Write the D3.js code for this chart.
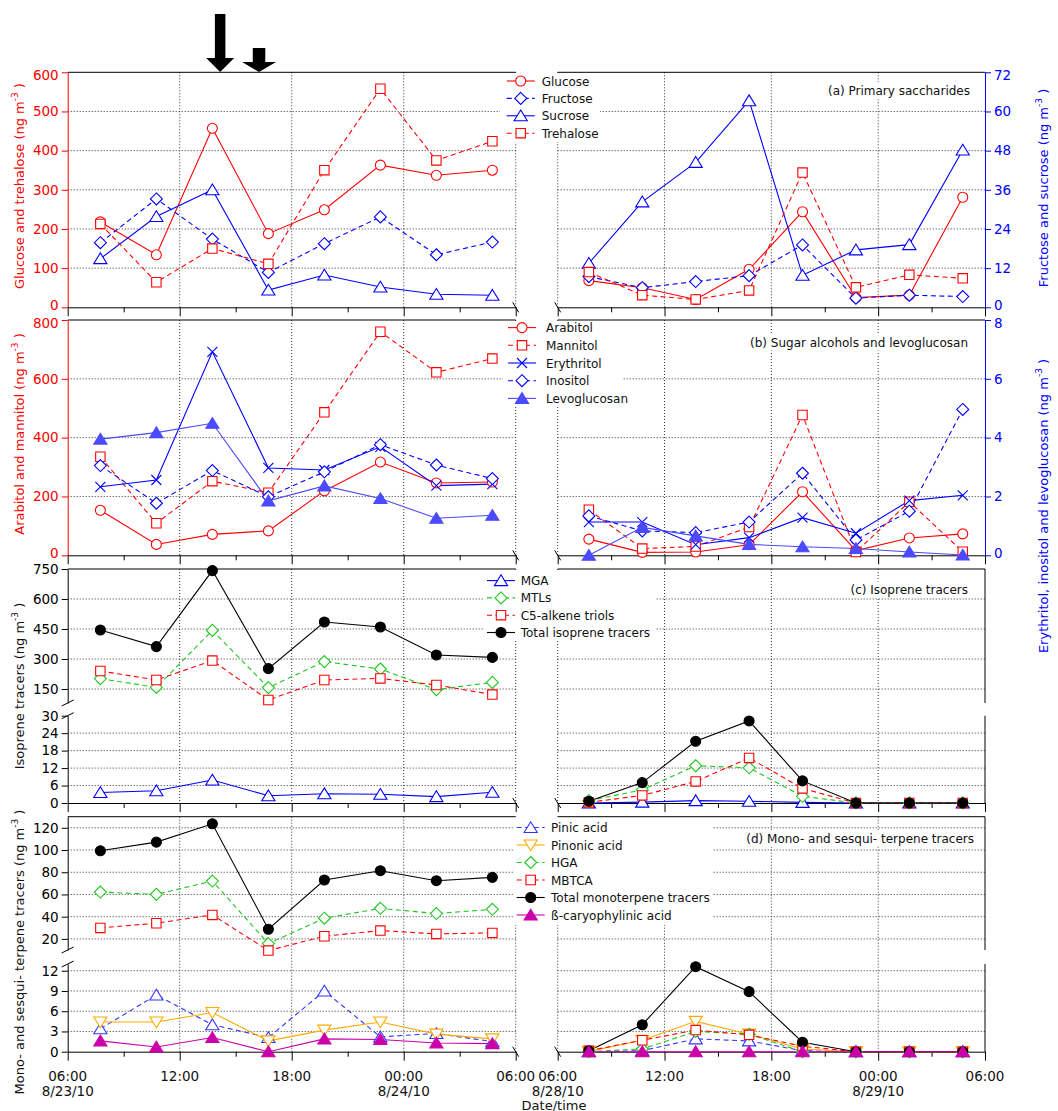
<!DOCTYPE html>
<html>
<head>
<meta charset="utf-8">
<script src="https://cdnjs.cloudflare.com/ajax/libs/d3/7.8.5/d3.min.js"></script>
<style>
  body { margin: 0; background: #fff; }
  svg text { font-family: "DejaVu Sans", sans-serif; fill: #111; }
  .grid { stroke: #333; stroke-width: 1; stroke-dasharray: 1,2; fill: none; }
</style>
</head>
<body>
<script>
var parseT = d3.timeParse("%Y-%m-%d %H:%M");

// sampling times (two campaigns)
var timesA = ["2010-08-23 07:45","2010-08-23 10:45","2010-08-23 13:45","2010-08-23 16:45",
              "2010-08-23 19:45","2010-08-23 22:45","2010-08-24 01:45","2010-08-24 04:45"];
var timesB = ["2010-08-28 07:45","2010-08-28 10:45","2010-08-28 13:45","2010-08-28 16:45",
              "2010-08-28 19:45","2010-08-28 22:45","2010-08-29 01:45","2010-08-29 04:45"];
var spanA = ["2010-08-23 06:00","2010-08-24 06:00"];
var spanB = ["2010-08-28 06:00","2010-08-29 06:00"];
var arrowTimes = ["2010-08-23 14:10","2010-08-23 16:15"];

// (a) primary saccharides
var glucoseA   = [218,134,457,188,249,363,337,350];
var glucoseB   = [68,50,20,97,244,25,31,281];
var fructoseA  = [19.8,33.2,20.9,10.7,19.5,27.7,16.1,20.0];
var fructoseB  = [9.4,6.0,7.9,9.7,19.1,2.8,3.7,3.3];
var sucroseA   = [14.9,27.8,36.0,5.3,9.9,6.2,4.0,3.7];
var sucroseB   = [13.5,32.3,44.4,63.3,9.8,17.6,19.2,48.2];
var trehaloseA = [213,64,150,111,350,558,375,424];
var trehaloseB = [90,31,20,43,344,51,83,74];

// (b) sugar alcohols and levoglucosan
var arabitolA = [153,37,71,83,219,317,246,249];
var arabitolB = [55,10,11,36,216,16,59,73];
var mannitolA = [335,109,252,213,486,760,622,669];
var mannitolB = [155,23,30,96,477,11,182,12];
var erythritolA = [2.33,2.56,6.92,2.97,2.90,3.69,2.37,2.42];
var erythritolB = [1.13,1.13,0.36,0.60,1.28,0.75,1.86,2.04];
var inositolA = [3.05,1.77,2.88,1.99,2.84,3.76,3.07,2.61];
var inositolB = [1.34,0.83,0.77,1.13,2.79,0.52,1.50,4.96];
var levoA = [3.95,4.17,4.49,1.85,2.36,1.93,1.26,1.36];
var levoB = [0,0.95,0.66,0.37,0.29,0.23,0.11,0.01];

// (c) isoprene tracers
var mgaA = [3.6,4.2,7.9,2.5,3.2,3.0,2.2,3.7];
var mgaB = [0,0.3,0.8,0.6,0.2,0,0,0];
var mtlsA = [202,158,443,157,287,250,147,183];
var mtlsB = [0.8,4.5,12.8,12.1,2.3,0,0,0];
var c5A = [240,195,292,95,195,203,170,122];
var c5B = [0.2,2.6,7.4,15.5,5.0,0,0,0];
var totIsoA = [445,362,742,252,485,460,320,308];
var totIsoB = [0.6,7.0,21.2,28.2,7.6,0,0,0];

// (d) mono- and sesqui- terpene tracers
var pinicA = [3.4,8.4,4.0,2.1,9.0,2.2,2.7,1.5];
var pinicB = [0,0.15,1.9,1.6,0.15,0,0,0];
var pinonicA = [4.4,4.4,5.8,1.6,3.2,4.4,2.6,1.9];
var pinonicB = [0.05,1.7,4.5,2.6,0.4,0,0,0];
var hgaA = [62.2,60.1,72.1,15.8,38.6,47.5,42.8,46.6];
var hgaB = [0,0.4,3.0,2.6,0,0,0,0];
var mbtcaA = [29.9,34.1,41.6,9.5,22.4,27.5,24.5,25.4];
var mbtcaB = [0.15,1.7,3.2,2.5,0.8,0,0,0];
var totMonoA = [99.3,107.1,123.6,28.7,73.0,81.4,72.4,75.4];
var totMonoB = [0.15,4.0,12.6,8.9,1.4,0,0,0];
var caryA = [1.6,0.7,2.1,0,1.9,1.8,1.3,1.2];
var caryB = [0,0,0,0,0,0,0,0];

// axis ticks
var ticksAL = [0,100,200,300,400,500,600], ticksAR = [0,12,24,36,48,60,72];
var ticksBL = [0,200,400,600,800], ticksBR = [0,2,4,6,8];
var ticksCLow = [0,6,12,18,24,30], ticksCUp = [150,300,450,600,750];
var ticksDLow = [0,3,6,9,12], ticksDUp = [20,40,60,80,100,120];

var RED = "#ff0000", BLUE = "#0000ff", LBLUE = "#4a4aff", GREEN = "#1ec81e",
    ORANGE = "#ffaa00", MAG = "#cc00a8", BLACK = "#000";

var svg = d3.select("body").append("svg").attr("width", 1058).attr("height", 1111);

var xA = d3.scaleTime().domain(spanA.map(parseT)).range([67.7, 515.7]);
var xB = d3.scaleTime().domain(spanB.map(parseT)).range([557.7, 985]);
var tA = timesA.map(parseT), tB = timesB.map(parseT);

var marks = {
  circle: "M5,0A5,5,0,1,1,-5,0A5,5,0,1,1,5,0Z",
  square: "M-4.7,-4.7H4.7V4.7H-4.7Z",
  diamond: "M0,-6L6,0L0,6L-6,0Z",
  triUp: "M0,-5.8L6.6,5L-6.6,5Z",
  triDown: "M0,5.8L6.6,-5L-6.6,-5Z",
  cross: "M-5,-5L5,5M5,-5L-5,5"
};

var panels = [
  { top: 72.3, bottom: 307.3, axisColor: RED,
    segs: [{domain: [0,600], range: [307.3,72.3], ticks: ticksAL}],
    right: {domain: [0,72], ticks: ticksAR, color: BLUE},
    leftTitle: "Glucose and trehalose", leftTitleY: 186,
    rightTitle: "Fructose and sucrose", rightTitleY: 188,
    label: "(a) Primary saccharides", labelX: 970, labelY: 90,
    legend: {x: 506.7, y: 81, dy: 17.4, tx: 541.7, box: [500,73,600,142]},
    series: [
      {name: "Glucose", A: glucoseA, B: glucoseB, color: RED, mark: "circle"},
      {name: "Fructose", A: fructoseA, B: fructoseB, color: BLUE, mark: "diamond", dash: true, axis: "R"},
      {name: "Sucrose", A: sucroseA, B: sucroseB, color: BLUE, mark: "triUp", axis: "R"},
      {name: "Trehalose", A: trehaloseA, B: trehaloseB, color: RED, mark: "square", dash: true}
    ]},
  { top: 320, bottom: 555.3, axisColor: RED,
    segs: [{domain: [0,800], range: [555.3,320], ticks: ticksBL}],
    right: {domain: [0,8], ticks: ticksBR, color: BLUE},
    leftTitle: "Arabitol and mannitol", leftTitleY: 434,
    rightTitle: "Erythritol, inositol and levoglucosan", rightTitleY: 506,
    label: "(b) Sugar alcohols and levoglucosan", labelX: 968, labelY: 342,
    legend: {x: 508, y: 327.6, dy: 17.7, tx: 546, box: [503,321,623,406]},
    series: [
      {name: "Arabitol", A: arabitolA, B: arabitolB, color: RED, mark: "circle"},
      {name: "Mannitol", A: mannitolA, B: mannitolB, color: RED, mark: "square", dash: true},
      {name: "Erythritol", A: erythritolA, B: erythritolB, color: BLUE, mark: "cross", axis: "R"},
      {name: "Inositol", A: inositolA, B: inositolB, color: BLUE, mark: "diamond", dash: true, axis: "R"},
      {name: "Levoglucosan", A: levoA, B: levoB, color: LBLUE, mark: "triUp", filled: true, axis: "R"}
    ]},
  { top: 569, bottom: 803, axisColor: BLACK,
    segs: [{domain: [0,30], range: [803,715.7], ticks: ticksCLow},
           {domain: [80,750], range: [703,569], ticks: ticksCUp}],
    leftTitle: "Isoprene tracers", leftTitleY: 686,
    label: "(c) Isoprene tracers", labelX: 968, labelY: 589,
    legend: {x: 487, y: 580.6, dy: 17.3, tx: 520.7, box: [483,570,655,641]},
    series: [
      {name: "MGA", A: mgaA, B: mgaB, color: BLUE, mark: "triUp", seg: 0},
      {name: "MTLs", A: mtlsA, B: mtlsB, color: GREEN, mark: "diamond", dash: true, seg: 1},
      {name: "C5-alkene triols", A: c5A, B: c5B, color: RED, mark: "square", dash: true, seg: 1},
      {name: "Total isoprene tracers", A: totIsoA, B: totIsoB, color: BLACK, mark: "circle", filled: true, seg: 1}
    ]},
  { top: 816.7, bottom: 1051.7, axisColor: BLACK,
    segs: [{domain: [0,13], range: [1051.7,964], ticks: ticksDLow},
           {domain: [10,130], range: [950,816.7], ticks: ticksDUp}],
    leftTitle: "Mono- and sesqui- terpene tracers", leftTitleY: 952,
    label: "(d) Mono- and sesqui- terpene tracers", labelX: 974, labelY: 838,
    legend: {x: 516.7, y: 827.5, dy: 17.5, tx: 551, box: [514,817,713,925]},
    series: [
      {name: "Pinic acid", A: pinicA, B: pinicB, color: "#3333ff", mark: "triUp", dash: true, seg: 0},
      {name: "Pinonic acid", A: pinonicA, B: pinonicB, color: ORANGE, mark: "triDown", seg: 0},
      {name: "HGA", A: hgaA, B: hgaB, color: GREEN, mark: "diamond", dash: true, seg: 1},
      {name: "MBTCA", A: mbtcaA, B: mbtcaB, color: RED, mark: "square", dash: true, seg: 1},
      {name: "Total monoterpene tracers", A: totMonoA, B: totMonoB, color: BLACK, mark: "circle", filled: true, seg: 1},
      {name: "ß-caryophylinic acid", A: caryA, B: caryB, color: MAG, mark: "triUp", filled: true, seg: 0}
    ]}
];

function addMark(g, s, x, y) {
  g.append("path").attr("d", marks[s.mark])
    .attr("transform", "translate(" + x + "," + y + ")")
    .attr("fill", s.mark === "cross" ? "none" : (s.filled ? s.color : "#fff"))
    .attr("stroke", s.color).attr("stroke-width", 1.1);
}

function yTitle(x, y, txt, color) {
  var t = svg.append("text").attr("transform", "translate(" + x + "," + y + ") rotate(-90)")
    .attr("text-anchor", "middle").style("font-size", "13px").style("fill", color);
  t.append("tspan").text(txt + " (ng m");
  t.append("tspan").attr("dy", -6).style("font-size", "9px").text("-3");
  t.append("tspan").attr("dy", 6).text(" )");
}

// nudge the end labels of stacked panels apart a little
function nudgeEnds(ax, domain) {
  ax.selectAll(".tick text").attr("dy", function(d) {
    if (d === domain[1]) return "0.55em";
    if (d === domain[0]) return "0.15em";
    return "0.32em";
  });
}

panels.forEach(function(p, pi) {
  var g = svg.append("g");
  var ys = p.segs.map(function(s) { return d3.scaleLinear().domain(s.domain).range(s.range); });
  var yR = p.right ? d3.scaleLinear().domain(p.right.domain).range(p.segs[0].range) : null;

  // horizontal grid
  p.segs.forEach(function(s, i) {
    s.ticks.forEach(function(t) {
      if (t === s.domain[0] || t === s.domain[1]) return;
      [xA, xB].forEach(function(x) {
        g.append("line").attr("class", "grid")
          .attr("x1", x.range()[0]).attr("x2", x.range()[1])
          .attr("y1", ys[i](t)).attr("y2", ys[i](t));
      });
    });
  });
  // vertical grid
  [xA, xB].forEach(function(x, k) {
    x.ticks(d3.timeHour.every(6)).forEach(function(d, j, arr) {
      if (k === 0 && j === 0) return;
      if (k === 1 && j === arr.length - 1) return;
      g.append("line").attr("class", "grid")
        .attr("x1", x(d)).attr("x2", x(d)).attr("y1", p.top).attr("y2", p.bottom);
    });
  });

  // white boxes behind legend and panel label
  var lb = p.legend.box;
  g.append("rect").attr("x", lb[0]).attr("y", lb[1]).attr("width", lb[2] - lb[0])
    .attr("height", lb[3] - lb[1]).attr("fill", "#fff");
  var lab = g.append("text").attr("x", p.labelX).attr("y", p.labelY + 4.5)
    .attr("text-anchor", "end").style("font-size", "12px").text(p.label);
  var bb = lab.node().getBBox();
  g.insert("rect", "text").attr("x", bb.x - 3).attr("y", bb.y - 1)
    .attr("width", bb.width + 6).attr("height", bb.height + 2).attr("fill", "#fff");

  // left axis (possibly broken)
  p.segs.forEach(function(s, i) {
    var ax = g.append("g").attr("transform", "translate(67.7,0)")
      .call(d3.axisLeft(ys[i]).tickValues(s.ticks).tickSize(6).tickSizeOuter(0).tickPadding(3));
    ax.selectAll("path,line").attr("stroke", p.axisColor);
    ax.selectAll("text").style("font-size", "13.5px").style("font-family", "DejaVu Sans, sans-serif")
      .style("fill", p.axisColor);
    if (p.segs.length === 1) nudgeEnds(ax, s.domain);
  });
  if (p.segs.length > 1) {
    var yb = p.segs[1].range[0], yt = p.segs[0].range[1];
    [yb, yt].forEach(function(yy) {
      g.append("line").attr("x1", 61.7).attr("x2", 73.7).attr("y1", yy + 3).attr("y2", yy - 3)
        .attr("stroke", "#000");
    });
    // right frame, broken
    p.segs.forEach(function(s) {
      g.append("line").attr("x1", 985).attr("x2", 985).attr("y1", s.range[0]).attr("y2", s.range[1])
        .attr("stroke", "#000");
    });
  }
  if (yR) {
    var ar = g.append("g").attr("transform", "translate(985,0)")
      .call(d3.axisRight(yR).tickValues(p.right.ticks).tickSize(6).tickSizeOuter(0).tickPadding(3));
    ar.selectAll("path,line").attr("stroke", p.right.color);
    ar.selectAll("text").style("font-size", "13.5px").style("font-family", "DejaVu Sans, sans-serif")
      .style("fill", p.right.color);
    nudgeEnds(ar, p.right.domain);
  }

  // top frame and bottom time axes
  [xA, xB].forEach(function(x) {
    g.append("line").attr("x1", x.range()[0]).attr("x2", x.range()[1])
      .attr("y1", p.top).attr("y2", p.top).attr("stroke", "#000");
    var bx = g.append("g").attr("transform", "translate(0," + p.bottom + ")")
      .call(d3.axisBottom(x).ticks(d3.timeHour.every(3)).tickSize(9).tickSizeOuter(0).tickFormat(""));
    bx.selectAll("path,line").attr("stroke", "#000");
    bx.selectAll(".tick line").filter(function(d) { return d.getHours() % 6 !== 0; }).attr("y2", 5);
  });
  // x-axis break marks
  [515.7, 557.7].forEach(function(xx) {
    g.append("line").attr("x1", xx - 3).attr("x2", xx + 3).attr("y1", p.bottom - 5).attr("y2", p.bottom + 5)
      .attr("stroke", "#000");
  });

  // data
  p.series.forEach(function(s) {
    var yAfn = s.axis === "R" ? yR : ys[s.seg || 0];
    var yBfn = s.axis === "R" ? yR : ys[0];
    [[s.A, tA, xA, yAfn], [s.B, tB, xB, yBfn]].forEach(function(set) {
      var vals = set[0], tt = set[1], x = set[2], y = set[3];
      var line = d3.line().x(function(d, i) { return x(tt[i]); }).y(function(d) { return y(d); });
      g.append("path").datum(vals).attr("d", line).attr("fill", "none")
        .attr("stroke", s.color).attr("stroke-width", 1.1)
        .attr("stroke-dasharray", s.dash ? "5,3.5" : null);
    });
  });
  p.series.forEach(function(s) {
    var yAfn = s.axis === "R" ? yR : ys[s.seg || 0];
    var yBfn = s.axis === "R" ? yR : ys[0];
    s.A.forEach(function(v, i) { addMark(g, s, xA(tA[i]), yAfn(v)); });
    s.B.forEach(function(v, i) { addMark(g, s, xB(tB[i]), yBfn(v)); });
  });

  // legend
  var L = p.legend;
  p.series.forEach(function(s, i) {
    var yy = L.y + i * L.dy;
    g.append("line").attr("x1", L.x).attr("x2", L.x + 28).attr("y1", yy).attr("y2", yy)
      .attr("stroke", s.color).attr("stroke-width", 1.1)
      .attr("stroke-dasharray", s.dash ? "5,3.5" : null);
    addMark(g, s, L.x + 14, yy);
    g.append("text").attr("x", L.tx).attr("y", yy + 4.5).style("font-size", "12px").text(s.name);
  });

  yTitle(24, p.leftTitleY, p.leftTitle, p.axisColor === RED ? RED : "#111");
  if (p.rightTitle) yTitle(1048, p.rightTitleY, p.rightTitle, BLUE);
});

// time labels under the last panel
var fmtH = d3.timeFormat("%H:%M"), fmtD = d3.timeFormat("%-m/%-d/%y");
[xA, xB].forEach(function(x) {
  x.ticks(d3.timeHour.every(6)).forEach(function(d, j) {
    svg.append("text").attr("x", x(d)).attr("y", 1080.5).attr("text-anchor", "middle")
      .style("font-size", "13.5px").text(fmtH(d));
    if (j === 0 || d.getHours() === 0) {
      svg.append("text").attr("x", x(d)).attr("y", 1096).attr("text-anchor", "middle")
        .style("font-size", "13.5px").text(fmtD(d));
    }
  });
});
svg.append("text").attr("x", 554).attr("y", 1109.5).attr("text-anchor", "middle")
  .style("font-size", "13px").text("Date/time");

// arrows marking events
var arrowDims = [{shaftTop: 14, headTop: 58, shaftW: 10.5, headW: 28},
                 {shaftTop: 48, headTop: 62, shaftW: 12.5, headW: 34}];
arrowTimes.forEach(function(t, i) {
  var cx = xA(parseT(t)), a = arrowDims[i], tip = 72;
  var pts = [[cx - a.shaftW / 2, a.shaftTop], [cx + a.shaftW / 2, a.shaftTop], [cx + a.shaftW / 2, a.headTop],
             [cx + a.headW / 2, a.headTop], [cx, tip], [cx - a.headW / 2, a.headTop], [cx - a.shaftW / 2, a.headTop]];
  svg.append("path").attr("d", "M" + pts.join("L") + "Z").attr("fill", "#000");
});
</script>
</body>
</html>
